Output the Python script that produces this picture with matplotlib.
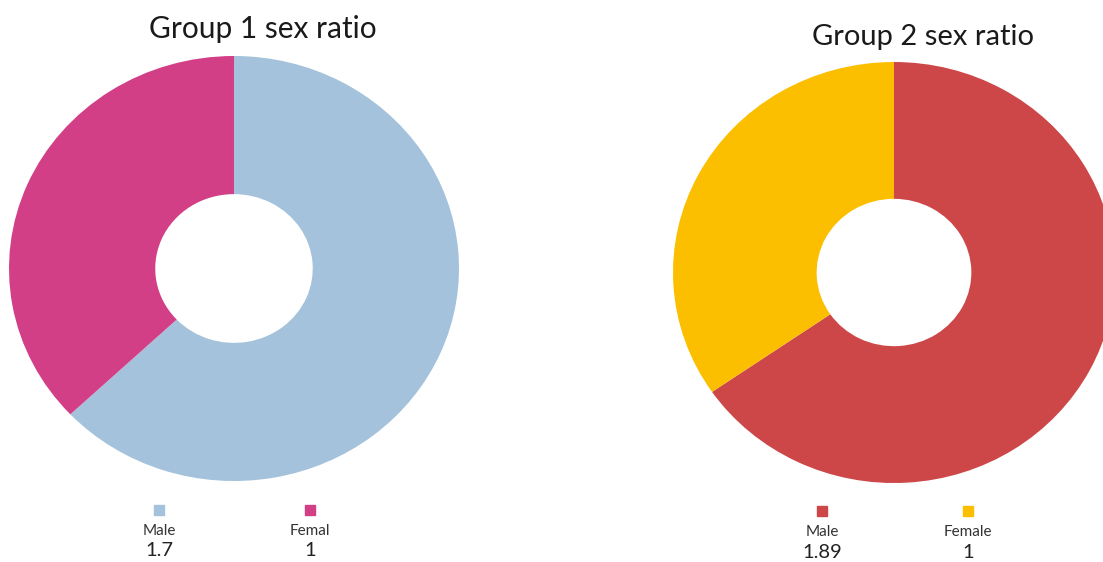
import matplotlib
matplotlib.use("Agg")
import matplotlib.pyplot as plt
from matplotlib.lines import Line2D

plt.rcParams['font.family'] = ['Lato', 'DejaVu Sans']

# Data
categories_g1 = ["Male", "Femal"]
values_g1 = [1.7, 1]
value_labels_g1 = ["1.7", "1"]
colors_g1 = ["#A4C2DB", "#D33F86"]

categories_g2 = ["Male", "Female"]
values_g2 = [1.89, 1]
value_labels_g2 = ["1.89", "1"]
colors_g2 = ["#CD4748", "#FCBF00"]

titles = ["Group 1 sex ratio", "Group 2 sex ratio"]

W, H = 1103, 562
fig = plt.figure(figsize=(W / 100, H / 100), dpi=100)


def px_box(left, top, right, bottom):
    return [left / W, 1 - bottom / H, (right - left) / W, (bottom - top) / H]


def fx(x):
    return x / W


def fy(y):
    return 1 - y / H


def donut(box, values, colors):
    ax = fig.add_axes(box)
    ax.pie(values, colors=colors, startangle=90, counterclock=False,
           wedgeprops=dict(width=0.65, edgecolor='none', linewidth=0))
    ax.set_aspect('auto')
    ax.set_xlim(-1, 1)
    ax.set_ylim(-1, 1)
    ax.axis('off')
    return ax


donut(px_box(9, 56, 459, 481), values_g1, colors_g1)
donut(px_box(673, 62, 1115, 483), values_g2, colors_g2)

fig.text(fx(263), fy(38), titles[0], ha='center', va='baseline',
         fontsize=21.5, color='#1a1a1a')
fig.text(fx(923), fy(45), titles[1], ha='center', va='baseline',
         fontsize=21, color='#1a1a1a')


def legend(xs, y_marker, y_label, y_value, cats, vals, colors):
    for x, c, v, col in zip(xs, cats, vals, colors):
        fig.add_artist(Line2D([fx(x)], [fy(y_marker)], marker='s', markersize=6.5,
                              color=col, linestyle='none',
                              transform=fig.transFigure))
        fig.text(fx(x), fy(y_label), c, ha='center', va='center',
                 fontsize=11, color='#333333')
        fig.text(fx(x), fy(y_value), v, ha='center', va='center',
                 fontsize=14.5, color='#222222')


legend([159, 310], 510, 531, 551, categories_g1, value_labels_g1, colors_g1)
legend([822, 968], 511, 532, 553, categories_g2, value_labels_g2, colors_g2)

fig.savefig("out.png", dpi=100)
